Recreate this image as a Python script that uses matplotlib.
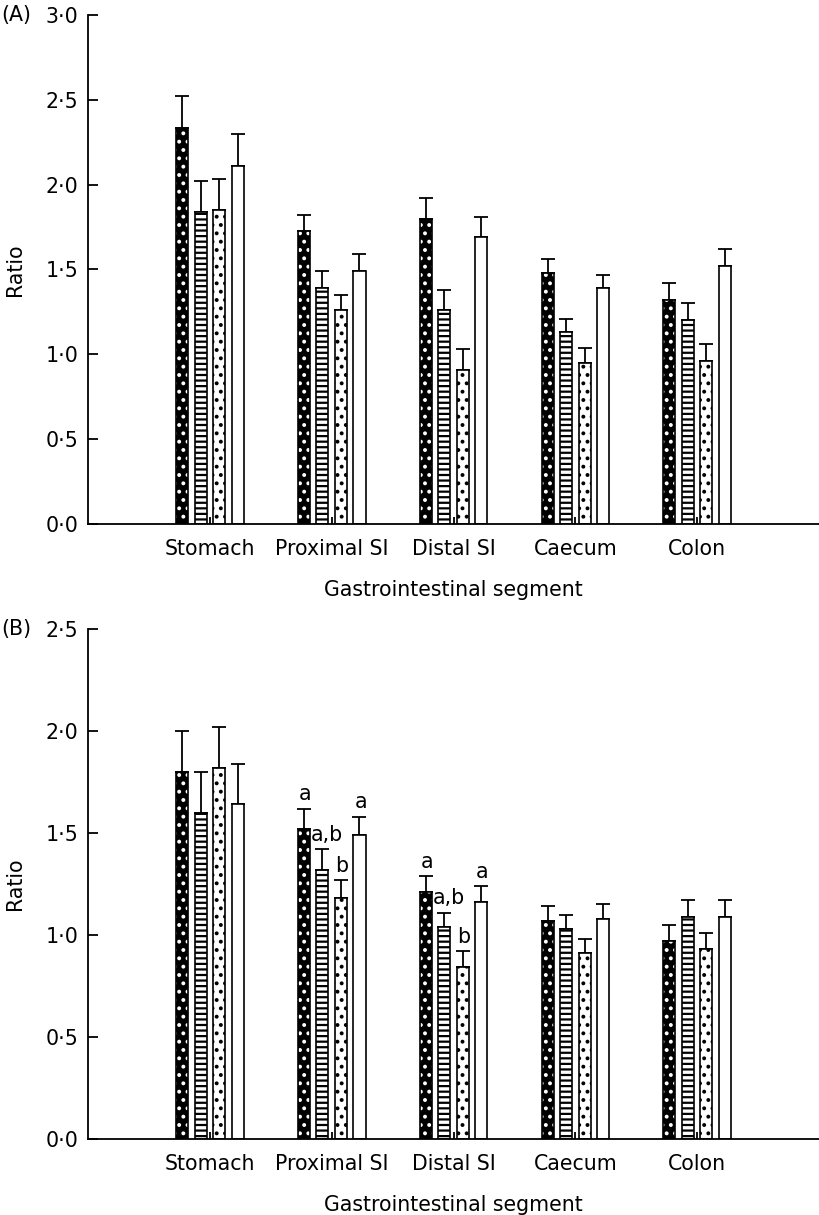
import matplotlib
matplotlib.use('Agg')
import matplotlib.pyplot as plt
import numpy as np

plt.rcParams['font.family'] = ['DejaVu Sans']
plt.rcParams['font.size'] = 14.8
plt.rcParams['hatch.linewidth'] = 1.6

segments = ['Stomach', 'Proximal SI', 'Distal SI', 'Caecum', 'Colon']

# panel A: means and SEM for the four groups
a_mean = [[2.335, 1.727, 1.80, 1.48, 1.32],
          [1.84, 1.39, 1.26, 1.13, 1.20],
          [1.85, 1.26, 0.91, 0.95, 0.96],
          [2.11, 1.49, 1.69, 1.39, 1.52]]
a_sem = [[0.185, 0.095, 0.12, 0.08, 0.10],
         [0.18, 0.10, 0.12, 0.08, 0.10],
         [0.185, 0.09, 0.12, 0.09, 0.10],
         [0.19, 0.10, 0.12, 0.08, 0.10]]

# panel B
b_mean = [[1.80, 1.52, 1.21, 1.07, 0.97],
          [1.60, 1.32, 1.04, 1.03, 1.09],
          [1.82, 1.18, 0.845, 0.91, 0.93],
          [1.64, 1.49, 1.16, 1.08, 1.09]]
b_sem = [[0.20, 0.10, 0.08, 0.07, 0.08],
         [0.20, 0.10, 0.07, 0.07, 0.08],
         [0.20, 0.09, 0.075, 0.07, 0.08],
         [0.20, 0.09, 0.08, 0.07, 0.08]]
b_letters = {(1, 0): 'a', (1, 1): 'a,b', (1, 2): 'b', (1, 3): 'a',
             (2, 0): 'a', (2, 1): 'a,b', (2, 2): 'b', (2, 3): 'a'}

# face, hatch, hatch colour for each group
styles = [('black', '..', 'white'),
          ('white', '---', 'black'),
          ('white', '..', 'black'),
          ('white', '', 'black')]

pitch = 0.152
width = 0.099
x = np.arange(len(segments))


def draw_panel(ax, means, sems, ymax, letters=None):
    for g in range(4):
        pos = x + (g - 1.5) * pitch
        face, hatch, hcol = styles[g]
        ax.bar(pos, means[g], width, color=face, edgecolor=hcol, hatch=hatch, lw=0, zorder=2)
        ax.bar(pos, means[g], width, fill=False, edgecolor='black', lw=1.2, zorder=3)
        ax.errorbar(pos, means[g], yerr=[np.zeros(5), sems[g]], fmt='none',
                    ecolor='black', elinewidth=1.3, capsize=5, capthick=1.3, zorder=1)
        if letters:
            for s in range(5):
                if (s, g) in letters:
                    lab = letters[(s, g)]
                    dx = 0.04 if ',' in lab else 0.01
                    ax.annotate(lab, (pos[s] + dx, means[g][s] + sems[g][s]),
                                xytext=(0, 3), textcoords='offset points',
                                ha='center', va='bottom')
    ax.set_xlim(-1, 5)
    ax.set_ylim(0, ymax)
    ticks = np.arange(0, ymax + 0.01, 0.5)
    ax.set_yticks(ticks)
    ax.set_yticklabels([('%.1f' % v).replace('.', '\u00b7') for v in ticks])
    ax.set_xticks(x)
    ax.set_xticklabels(segments)
    ax.spines['top'].set_visible(False)
    ax.spines['right'].set_visible(False)
    ax.spines['left'].set_linewidth(1.3)
    ax.spines['bottom'].set_linewidth(1.3)
    ax.tick_params(axis='y', direction='in', length=7, width=1.3, pad=7)
    ax.tick_params(axis='x', direction='in', length=5, width=1.3, pad=11)
    ax.set_xlabel('Gastrointestinal segment', labelpad=15)
    ax.set_ylabel('Ratio', labelpad=15)


fig = plt.figure(figsize=(8.19, 12.15), dpi=100)
ax1 = fig.add_axes([0.1075, 0.5687, 0.8925, 0.4190])
ax2 = fig.add_axes([0.1075, 0.0626, 0.8925, 0.4197])
draw_panel(ax1, a_mean, a_sem, 3.0)
draw_panel(ax2, b_mean, b_sem, 2.5, b_letters)
fig.text(0.002, 0.9877, '(A)', va='center')
fig.text(0.002, 0.4823, '(B)', va='center')
fig.savefig('out.png', dpi=100)
